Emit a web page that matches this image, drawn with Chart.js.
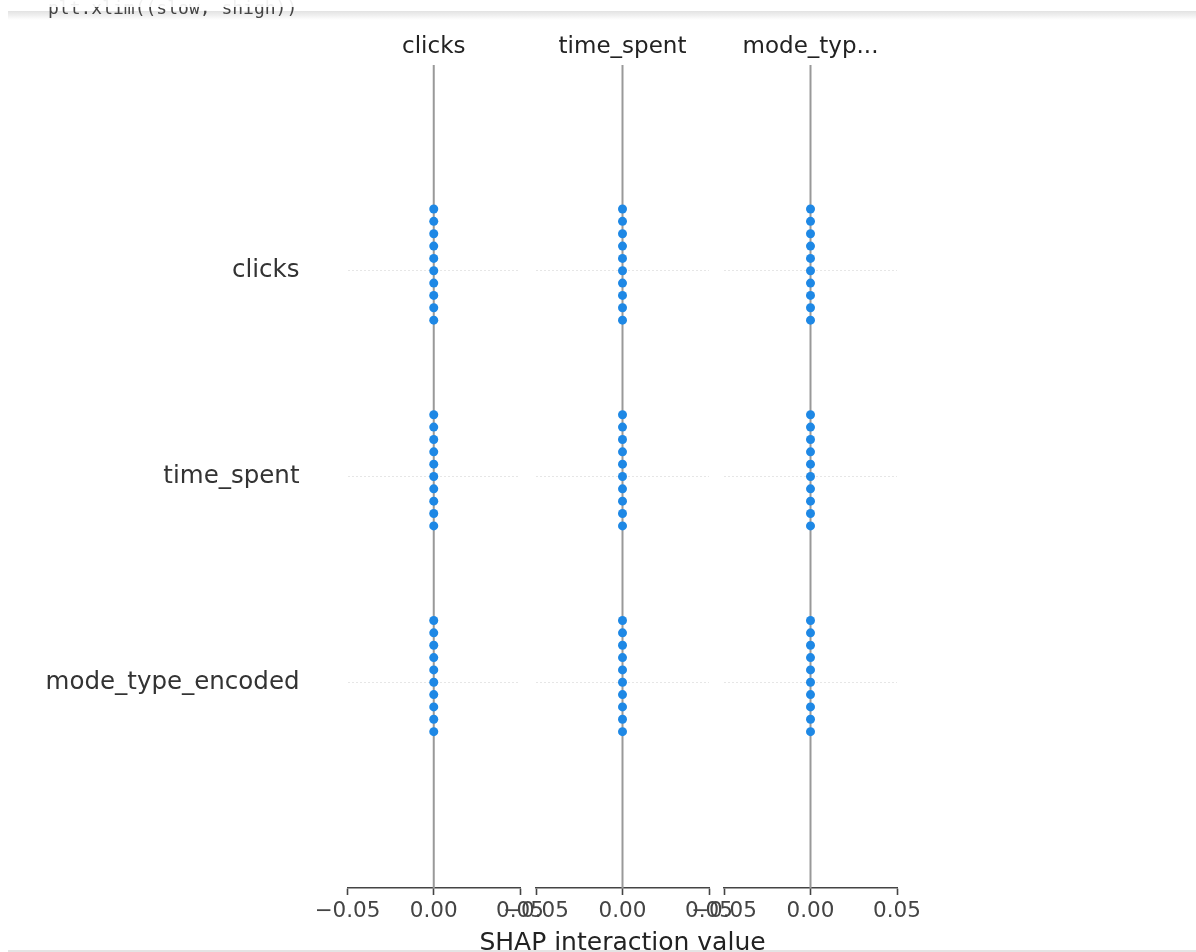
<!DOCTYPE html>
<html>
<head>
<meta charset="utf-8">
<script src="https://cdn.jsdelivr.net/npm/chart.js@4"></script>
<style>
  body { margin: 0; background: #fff; width: 1196px; height: 952px; position: relative; overflow: hidden; }
  canvas { position: absolute; top: 0; }
  #shade { position: absolute; left: 8px; top: 11px; width: 1188px; height: 9px;
           background: linear-gradient(#e2e2e2, rgba(255,255,255,0)); z-index: 2; }
  #code { position: absolute; left: 48px; top: -1px; font-family: 'DejaVu Sans Mono', monospace;
          font-size: 18px; line-height: 18px; color: #444; z-index: 3; white-space: pre; }
  #cover { position: absolute; left: 0; top: 0; width: 1196px; height: 7px; background: rgba(255,255,255,0.92); z-index: 4; }
  #foot { position: absolute; left: 8px; top: 950px; width: 1188px; height: 2px; background: #e4e4e4; z-index: 2; }
</style>
</head>
<body>
<div id="shade"></div>
<div id="code">plt.xlim((slow, shigh))</div>
<div id="cover"></div>
<div id="foot"></div>
<canvas id="p1" width="560" height="952" style="left:0px"></canvas>
<canvas id="p2" width="305" height="952" style="left:470px"></canvas>
<canvas id="p3" width="253" height="952" style="left:684px"></canvas>
<script>
// features on the y axis (top to bottom) and the column each panel shows
const features = ['clicks', 'time_spent', 'mode_type_encoded'];
const panelTitles = ['clicks', 'time_spent', 'mode_typ...'];
const rowPositions = [2, 1, 0];

// beeswarm stacking offsets of the 10 samples in each row
const swarmOffsets = [0, 0.06, -0.06, 0.12, -0.12, 0.18, -0.18, 0.24, -0.24, 0.30];

// SHAP interaction values, one list per row, per panel (all zero)
const clicksPanel = [
  [0, 0, 0, 0, 0, 0, 0, 0, 0, 0],
  [0, 0, 0, 0, 0, 0, 0, 0, 0, 0],
  [0, 0, 0, 0, 0, 0, 0, 0, 0, 0]
];
const timeSpentPanel = [
  [0, 0, 0, 0, 0, 0, 0, 0, 0, 0],
  [0, 0, 0, 0, 0, 0, 0, 0, 0, 0],
  [0, 0, 0, 0, 0, 0, 0, 0, 0, 0]
];
const modeTypePanel = [
  [0, 0, 0, 0, 0, 0, 0, 0, 0, 0],
  [0, 0, 0, 0, 0, 0, 0, 0, 0, 0],
  [0, 0, 0, 0, 0, 0, 0, 0, 0, 0]
];
const panels = [clicksPanel, timeSpentPanel, modeTypePanel];

const xTicks = [-0.05, 0.00, 0.05];
const xMin = -0.05, xMax = 0.05;
const yMin = -1, yMax = 3;
const xLabel = 'SHAP interaction value';

const FONT = "'DejaVu Sans', sans-serif";

// shared x label, drawn under the middle panel without squeezing it to the axis width
const xLabelPlugin = {
  id: 'xLabel',
  afterDraw(chart, args, opts) {
    if (!opts.show) return;
    const { ctx, chartArea } = chart;
    ctx.save();
    ctx.font = '25px ' + FONT;
    ctx.fillStyle = '#222';
    ctx.textAlign = 'center';
    ctx.textBaseline = 'alphabetic';
    ctx.fillText(xLabel, (chartArea.left + chartArea.right) / 2, 950);
    ctx.restore();
  }
};

function makePanel(id, index, opts) {
  const points = [];
  panels[index].forEach((row, r) => {
    row.forEach((v, i) => points.push({ x: v, y: rowPositions[r] + swarmOffsets[i] }));
  });

  new Chart(document.getElementById(id), {
    type: 'scatter',
    data: {
      datasets: [
        {
          data: points,
          backgroundColor: '#1E88E5',
          borderWidth: 0,
          pointRadius: 4.5,
          order: 0
        },
        {
          // vertical zero line
          type: 'line',
          data: [{ x: 0, y: yMin }, { x: 0, y: yMax }],
          borderColor: '#999999',
          borderWidth: 2,
          pointRadius: 0,
          order: 1
        }
      ]
    },
    plugins: [xLabelPlugin],
    options: {
      responsive: false,
      animation: false,
      devicePixelRatio: 1,
      layout: { padding: { left: opts.padLeft, right: opts.padRight, top: 0, bottom: 0 } },
      plugins: {
        legend: { display: false },
        tooltip: { enabled: false },
        xLabel: { show: opts.xTitle },
        title: {
          display: true,
          fullSize: false,
          text: panelTitles[index],
          color: '#222',
          font: { family: FONT, size: 23, weight: 'normal', lineHeight: 1.2 },
          padding: { top: 33.5, bottom: 3.9 }
        }
      },
      scales: {
        x: {
          type: 'linear',
          min: xMin,
          max: xMax,
          afterBuildTicks: s => { s.ticks = xTicks.map(v => ({ value: v })); },
          afterFit: s => { s.height = 64; },
          ticks: {
            color: '#444',
            padding: 4,
            font: { family: FONT, size: 21.5 },
            callback: v => v.toFixed(2).replace('-', '\u2212')
          },
          grid: {
            drawOnChartArea: false,
            drawTicks: true,
            tickLength: 7,
            tickColor: '#444',
            tickWidth: 1.6
          },
          border: { display: true, color: '#444', width: 1.6 }
        },
        y: {
          type: 'linear',
          min: yMin,
          max: yMax,
          afterBuildTicks: s => { s.ticks = rowPositions.map(v => ({ value: v })); },
          afterFit: s => { s.width = opts.yWidth; },
          ticks: {
            display: opts.yLabels,
            color: '#333',
            padding: 48,
            font: { family: FONT, size: 24.5 },
            callback: v => features[rowPositions.indexOf(v)]
          },
          grid: {
            color: '#e6e6e6',
            lineWidth: 1,
            drawTicks: false
          },
          border: { display: false, dash: [2, 2] }
        }
      }
    }
  });
}

makePanel('p1', 0, { padLeft: 0, padRight: 40, yWidth: 347.5, yLabels: true, xTitle: false });
makePanel('p2', 1, { padLeft: 66, padRight: 66, yWidth: 0, yLabels: false, xTitle: true });
makePanel('p3', 2, { padLeft: 40, padRight: 40, yWidth: 0, yLabels: false, xTitle: false });
</script>
</body>
</html>
